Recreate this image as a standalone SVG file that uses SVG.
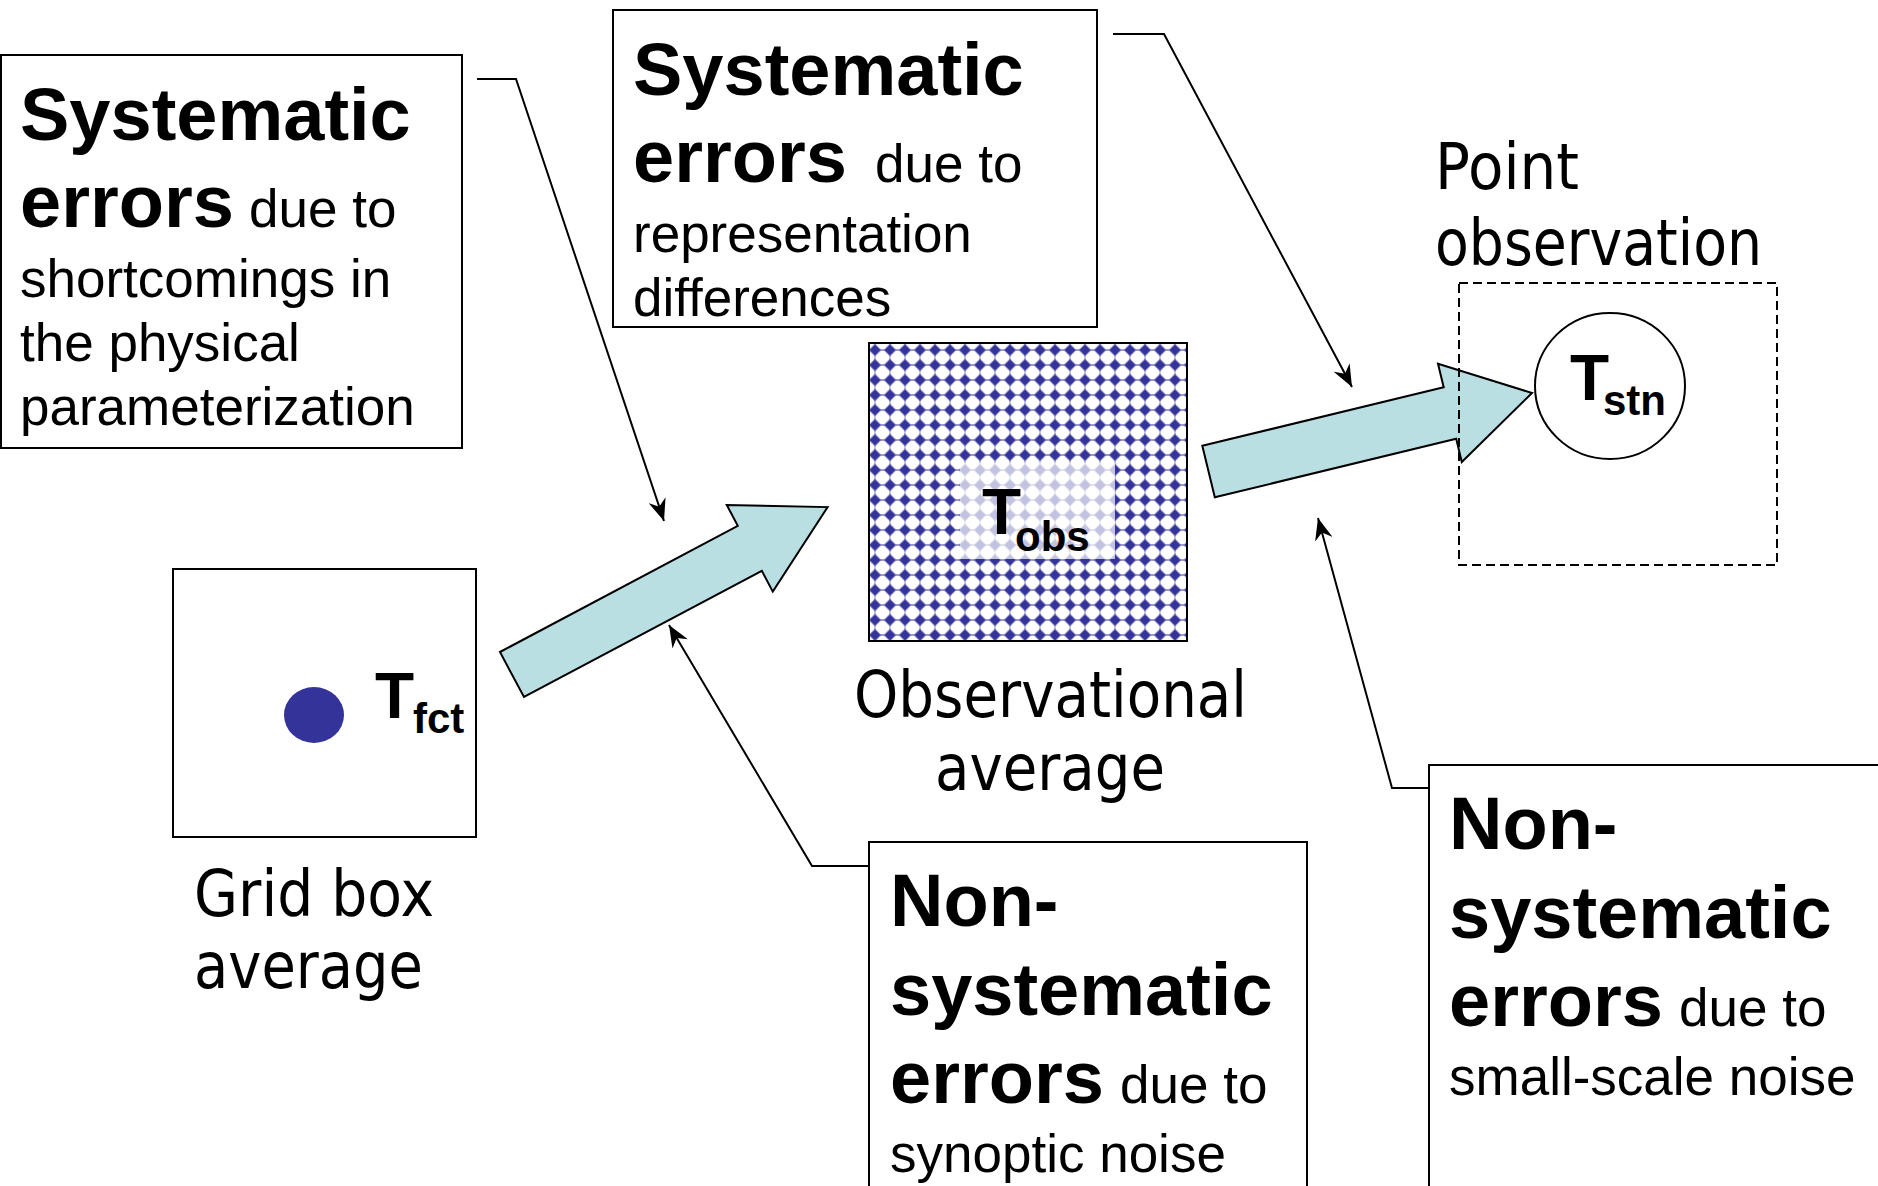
<svg xmlns="http://www.w3.org/2000/svg" width="1878" height="1186" viewBox="0 0 1878 1186">
<style>
.box{fill:#fff;stroke:#000;stroke-width:2}
.b{font-family:"Liberation Sans",Arial,sans-serif;font-weight:bold;font-size:74px;fill:#000}
.r{font-family:"Liberation Sans",Arial,sans-serif;font-size:53px;fill:#000}
.lbl{font-family:"DejaVu Sans",Verdana,sans-serif;font-size:64px;fill:#000}
.tb{font-family:"Liberation Sans",Arial,sans-serif;font-weight:bold;font-size:64px;fill:#000}
.ts{font-family:"Liberation Sans",Arial,sans-serif;font-weight:bold;font-size:42px;fill:#000}
.conn{fill:none;stroke:#000;stroke-width:2}
.big{fill:#badfe3;stroke:#000;stroke-width:2;stroke-linejoin:miter}
</style>
<defs>
<marker id="ah" markerUnits="userSpaceOnUse" markerWidth="22" markerHeight="18" viewBox="0 0 22 18" refX="22" refY="9" orient="auto">
<path d="M0,0 L22,9 L0,18 L7,9 Z" fill="#000"/>
</marker>
<pattern id="dia" patternUnits="userSpaceOnUse" x="867.5" y="342.5" width="15" height="15">
<rect width="15" height="15" fill="#fff"/>
<path d="M7.5,1.5 L13.5,7.5 L7.5,13.5 L1.5,7.5 Z M0,7 H15 V8 H0 Z M7,0.5 H8 V14.5 H7 Z" fill="#333399"/>
</pattern>
</defs>
<rect width="1878" height="1186" fill="#fff"/>

<g id="connectors">
<polyline class="conn" points="477,79 516,79 664,521" marker-end="url(#ah)"/>
<polyline class="conn" points="1113,34 1164,34 1352,387" marker-end="url(#ah)"/>
<polyline class="conn" points="868,866 812,866 669,625" marker-end="url(#ah)"/>
<polyline class="conn" points="1428,788 1392,788 1318,518" marker-end="url(#ah)"/>
<polygon id="arrow-fct-obs" class="big" points="500,652 737.8,525.8 726.8,505 827.6,507.1 772.8,591.6 761.8,570.8 524,697"/>
<polygon id="arrow-obs-stn" class="big" points="1202.3,445.8 1443.7,387.2 1438,363.8 1532,393 1461.8,462 1456.2,438.7 1214.8,497.3"/>
</g>

<g id="box-sys-physics">
<rect class="box" x="1" y="55" width="461" height="393"/>
<text class="b" x="20" y="140">Systematic</text>
<text class="b" x="20" y="227">errors</text>
<text class="r" x="249" y="227">due to</text>
<text class="r" x="20" y="297">shortcomings in</text>
<text class="r" x="20" y="361">the physical</text>
<text class="r" x="20" y="425">parameterization</text>
</g>

<g id="box-sys-representation">
<rect class="box" x="613" y="10" width="484" height="317"/>
<text class="b" x="633" y="95">Systematic</text>
<text class="b" x="633" y="182">errors</text>
<text class="r" x="875" y="182">due to</text>
<text class="r" x="633" y="252">representation</text>
<text class="r" x="633" y="316">differences</text>
</g>

<g id="box-nonsys-synoptic">
<rect class="box" x="869" y="842" width="438" height="400"/>
<text class="b" x="890" y="926">Non-</text>
<text class="b" x="890" y="1015">systematic</text>
<text class="b" x="890" y="1103">errors</text>
<text class="r" x="1120" y="1103">due to</text>
<text class="r" x="890" y="1172">synoptic noise</text>
</g>

<g id="box-nonsys-smallscale">
<rect class="box" x="1429" y="765" width="500" height="500"/>
<text class="b" x="1449" y="849">Non-</text>
<text class="b" x="1449" y="938">systematic</text>
<text class="b" x="1449" y="1026">errors</text>
<text class="r" x="1679" y="1026">due to</text>
<text class="r" x="1449" y="1095">small-scale noise</text>
</g>

<g id="grid-box">
<rect class="box" x="173" y="569" width="303" height="268"/>
<ellipse cx="314" cy="715" rx="30" ry="28" fill="#333399"/>
<text class="tb" x="375" y="718">T</text>
<text class="ts" x="413" y="733">fct</text>
<text class="lbl" x="194" y="916" textLength="240" lengthAdjust="spacingAndGlyphs">Grid box</text>
<text class="lbl" x="194" y="988" textLength="229" lengthAdjust="spacingAndGlyphs">average</text>
</g>

<g id="observational-average">
<rect x="869" y="343" width="318" height="298" fill="url(#dia)" stroke="#000" stroke-width="2"/>
<rect x="960" y="463" width="155" height="96" fill="#fff" fill-opacity="0.7"/>
<text class="tb" x="982" y="534">T</text>
<text class="ts" x="1015" y="551">obs</text>
<text class="lbl" x="854" y="717" textLength="393" lengthAdjust="spacingAndGlyphs">Observational</text>
<text class="lbl" x="935" y="790" textLength="230" lengthAdjust="spacingAndGlyphs">average</text>
</g>

<g id="point-observation">
<rect x="1459" y="283" width="318" height="282" fill="none" stroke="#000" stroke-width="2" stroke-dasharray="9 5"/>
<ellipse cx="1610" cy="386" rx="75" ry="73" fill="#fff" stroke="#000" stroke-width="2"/>
<text class="tb" x="1570" y="400">T</text>
<text class="ts" x="1603" y="415">stn</text>
<text class="lbl" x="1435" y="189" textLength="144" lengthAdjust="spacingAndGlyphs">Point</text>
<text class="lbl" x="1435" y="265" textLength="327" lengthAdjust="spacingAndGlyphs">observation</text>
</g>
</svg>
